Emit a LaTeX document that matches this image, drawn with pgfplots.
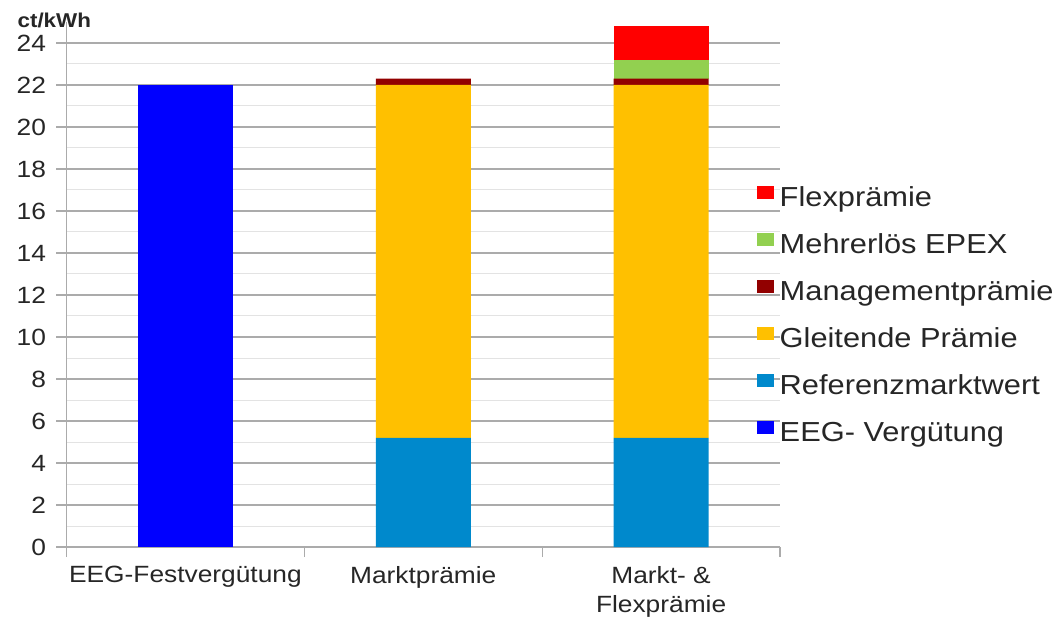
\documentclass[border=0pt]{standalone}
\usepackage{pgfplots}
\pgfplotsset{compat=1.18}
\usepackage{fontspec}
\setmainfont{Liberation Sans}[FakeStretch=1.12]

\definecolor{eegblue}{HTML}{0000FF}
\definecolor{refblue}{HTML}{0089CC}
\definecolor{gleit}{HTML}{FFC000}
\definecolor{mgmt}{HTML}{920000}
\definecolor{mehr}{HTML}{92D050}
\definecolor{flex}{HTML}{FF0000}
\definecolor{gridgray}{HTML}{ABABAB}
\definecolor{minorgray}{HTML}{E3E3E3}
\definecolor{txt}{HTML}{262626}

\begin{document}
\begin{tikzpicture}
\useasboundingbox (0,0) rectangle (1058pt,619pt);
\begin{axis}[
  at={(66.5pt,72pt)}, anchor=south west,
  scale only axis, width=713.5pt, height=525pt,
  ybar stacked, bar width=95pt,
  xmin=-0.5, xmax=2.5, ymin=0, ymax=25,
  clip=false,
  axis x line*=bottom, axis y line*=left,
  axis line style={gridgray, line width=1.2pt, -},
  tick align=outside, major tick length=10pt,
  xtick={-0.5,0.5,1.5,2.5}, xticklabels={},
  x tick style={draw=gridgray, line width=1.2pt},
  extra x ticks={0,1,2},
  extra x tick labels={EEG-Festvergütung, Marktprämie, {Markt- \&\\Flexprämie}},
  extra x tick style={major tick length=0pt, tick style={draw=none}, grid=none,
    xticklabel style={align=center, text=txt, yshift=-16pt,
      font=\fontsize{23.5}{29}\selectfont}},
  ytick={0,2,...,24}, minor y tick num=1,
  ymajorgrids, yminorgrids,
  major grid style={gridgray, line width=1.2pt},
  minor grid style={minorgray, line width=1pt},
  y tick style={draw=gridgray, line width=1.2pt},
  minor y tick style={draw=none},
  /pgf/number format/assume math mode=true,
  yticklabel style={text=txt, xshift=-7pt, font=\fontsize{23.5}{28}\selectfont},
  ylabel={ct/kWh},
  ylabel style={rotate=-90, at={(axis description cs:-0.0735,0.9886)},
    anchor=base west, text=txt, font=\bfseries\fontsize{20}{22}\selectfont},
  every axis plot/.append style={draw=none,
    legend image code/.code={\fill[##1] (0pt,0pt) rectangle (17pt,13pt);}},
  reverse legend,
  legend cell align=left,
  legend style={at={(axis description cs:0.9678,0.6876)}, anchor=north west,
    draw=none, fill=none, inner sep=0pt, row sep=21pt, column sep=0pt,
    font=\fontsize{27.5}{32}\selectfont, text=txt,
    nodes={inner ysep=0pt, inner xsep=5.5pt, text height=20pt, text depth=6pt}},
]
\addplot[fill=eegblue] coordinates {(0,22) (1,0) (2,0)};
\addplot[fill=refblue] coordinates {(0,0) (1,5.2) (2,5.2)};
\addplot[fill=gleit] coordinates {(0,0) (1,16.8) (2,16.8)};
\addplot[fill=mgmt] coordinates {(0,0) (1,0.3) (2,0.3)};
\addplot[fill=mehr] coordinates {(0,0) (1,0) (2,0.9)};
\addplot[fill=flex] coordinates {(0,0) (1,0) (2,1.6)};
\legend{EEG- Vergütung, Referenzmarktwert, Gleitende Prämie, Managementprämie, Mehrerlös EPEX, Flexprämie}
\end{axis}
\end{tikzpicture}
\end{document}
